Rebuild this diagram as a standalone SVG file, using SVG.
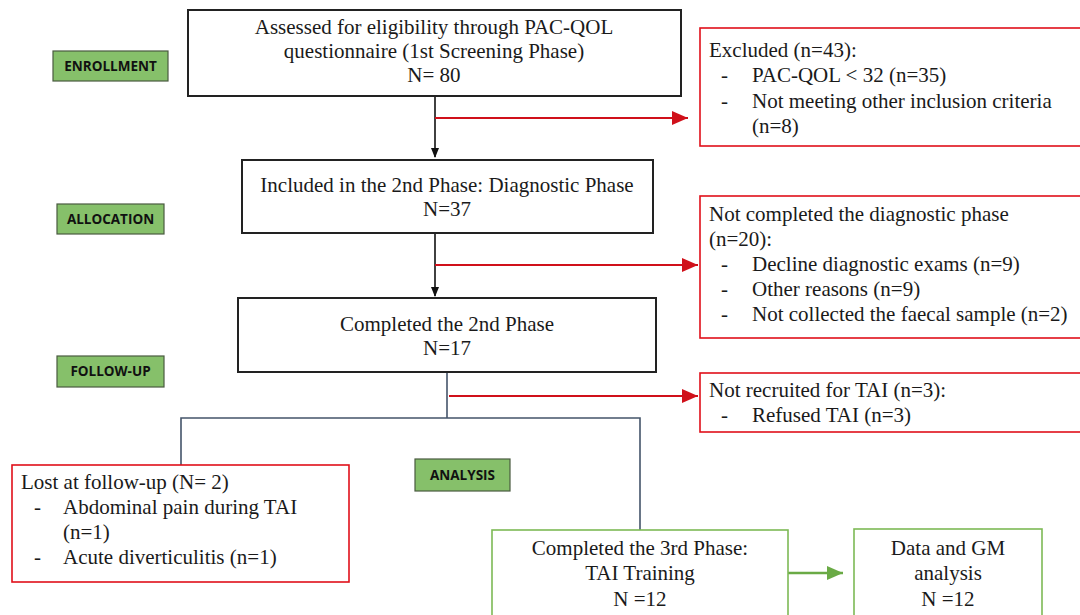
<svg xmlns="http://www.w3.org/2000/svg" width="1080" height="615" viewBox="0 0 1080 615">
<defs>
<style>
.t{font-size:21px;fill:#1a1a1a}
.c{text-anchor:middle}
.lbl{font-weight:bold;font-size:13.5px;fill:#111;text-anchor:middle}
.bk{fill:#fff;stroke:#222;stroke-width:2}
.rd{fill:#fff;stroke:#e0101a;stroke-width:1.6}
.gn{fill:#fff;stroke:#7dba55;stroke-width:1.6}
.gl{fill:#86c06a;stroke:#4a5a40;stroke-width:1.2}
</style>
<marker id="ab" markerWidth="10" markerHeight="10" refX="9" refY="5" orient="auto" markerUnits="userSpaceOnUse"><path d="M0,1 L10,5 L0,9 z" fill="#111"/></marker>
<marker id="ar" markerWidth="16" markerHeight="14" refX="16" refY="7" orient="auto" markerUnits="userSpaceOnUse"><path d="M0,0 L16,7 L0,14 z" fill="#d0101a"/></marker>
<marker id="ag" markerWidth="16" markerHeight="14" refX="16" refY="7" orient="auto" markerUnits="userSpaceOnUse"><path d="M0,0 L16,7 L0,14 z" fill="#6aaa45"/></marker>
</defs>
<rect width="1080" height="615" fill="#fff"/>

<g id="connectors" fill="none">
<line x1="435" y1="96" x2="435" y2="157" stroke="#111" stroke-width="1.6" marker-end="url(#ab)"/>
<line x1="435" y1="118" x2="688" y2="118" stroke="#d0101a" stroke-width="2.2" marker-end="url(#ar)"/>
<line x1="435" y1="233" x2="435" y2="296" stroke="#111" stroke-width="1.6" marker-end="url(#ab)"/>
<line x1="435" y1="265" x2="698" y2="265" stroke="#d0101a" stroke-width="2.2" marker-end="url(#ar)"/>
<line x1="447" y1="372" x2="447" y2="418" stroke="#44546a" stroke-width="1.6"/>
<line x1="449" y1="396" x2="698" y2="396" stroke="#d0101a" stroke-width="2.2" marker-end="url(#ar)"/>
<polyline points="181,465 181,418 640,418 640,530" stroke="#44546a" stroke-width="1.6"/>
<line x1="788" y1="573" x2="843" y2="573" stroke="#6aaa45" stroke-width="2.4" marker-end="url(#ag)"/>
</g>

<g font-family="Open Sans, Liberation Sans, sans-serif">
<g id="enrollment"><rect class="gl" x="53" y="51" width="115" height="30"/><text class="lbl" x="110.5" y="71">ENROLLMENT</text></g>
<g id="allocation"><rect class="gl" x="57" y="204" width="107" height="30"/><text class="lbl" x="110.5" y="224">ALLOCATION</text></g>
<g id="followup"><rect class="gl" x="57" y="356" width="107" height="31"/><text class="lbl" x="110.5" y="376">FOLLOW-UP</text></g>
<g id="analysis"><rect class="gl" x="415" y="459" width="95" height="32"/><text class="lbl" x="462.5" y="480">ANALYSIS</text></g>
</g>

<g font-family="Liberation Serif, serif">
<g id="assessed"><rect class="bk" x="188" y="10" width="493" height="86"/>
<text class="t c" x="434" y="34">Assessed for eligibility through PAC-QOL</text>
<text class="t c" x="434" y="58">questionnaire (1st Screening Phase)</text>
<text class="t c" x="434" y="82">N= 80</text></g>

<g id="excluded"><rect class="rd" x="700" y="28" width="390" height="118"/>
<text class="t" x="709" y="57">Excluded (n=43):</text>
<text class="t" x="721" y="82">-</text><text class="t" x="752" y="82">PAC-QOL &lt; 32 (n=35)</text>
<text class="t" x="721" y="108">-</text><text class="t" x="752" y="108">Not meeting other inclusion criteria</text>
<text class="t" x="752" y="133">(n=8)</text></g>

<g id="included"><rect class="bk" x="242" y="160" width="411" height="73"/>
<text class="t c" x="447" y="192">Included in the 2nd Phase: Diagnostic Phase</text>
<text class="t c" x="447" y="216">N=37</text></g>

<g id="notcompleted"><rect class="rd" x="700" y="196" width="390" height="142"/>
<text class="t" x="709" y="221">Not completed the diagnostic phase</text>
<text class="t" x="709" y="246">(n=20):</text>
<text class="t" x="721" y="271">-</text><text class="t" x="752" y="271">Decline diagnostic exams (n=9)</text>
<text class="t" x="721" y="296">-</text><text class="t" x="752" y="296">Other reasons (n=9)</text>
<text class="t" x="721" y="321">-</text><text class="t" x="752" y="321">Not collected the faecal sample (n=2)</text></g>

<g id="completed2"><rect class="bk" x="238" y="298" width="418" height="74"/>
<text class="t c" x="447" y="331">Completed the 2nd Phase</text>
<text class="t c" x="447" y="355">N=17</text></g>

<g id="notrecruited"><rect class="rd" x="700" y="373" width="390" height="59"/>
<text class="t" x="709" y="397">Not recruited for TAI (n=3):</text>
<text class="t" x="721" y="422">-</text><text class="t" x="752" y="422">Refused TAI (n=3)</text></g>

<g id="lost"><rect class="rd" x="12" y="465" width="337" height="117"/>
<text class="t" x="21" y="489">Lost at follow-up (N= 2)</text>
<text class="t" x="34" y="514">-</text><text class="t" x="63" y="514">Abdominal pain during TAI</text>
<text class="t" x="63" y="539">(n=1)</text>
<text class="t" x="34" y="564">-</text><text class="t" x="63" y="564">Acute diverticulitis (n=1)</text></g>

<g id="completed3"><rect class="gn" x="492" y="530" width="296" height="90"/>
<text class="t c" x="640" y="555">Completed the 3rd Phase:</text>
<text class="t c" x="640" y="580">TAI Training</text>
<text class="t c" x="640" y="606">N =12</text></g>

<g id="data"><rect class="gn" x="854" y="529" width="188" height="91"/>
<text class="t c" x="948" y="555">Data and GM</text>
<text class="t c" x="948" y="580">analysis</text>
<text class="t c" x="948" y="606">N =12</text></g>
</g>
</svg>
